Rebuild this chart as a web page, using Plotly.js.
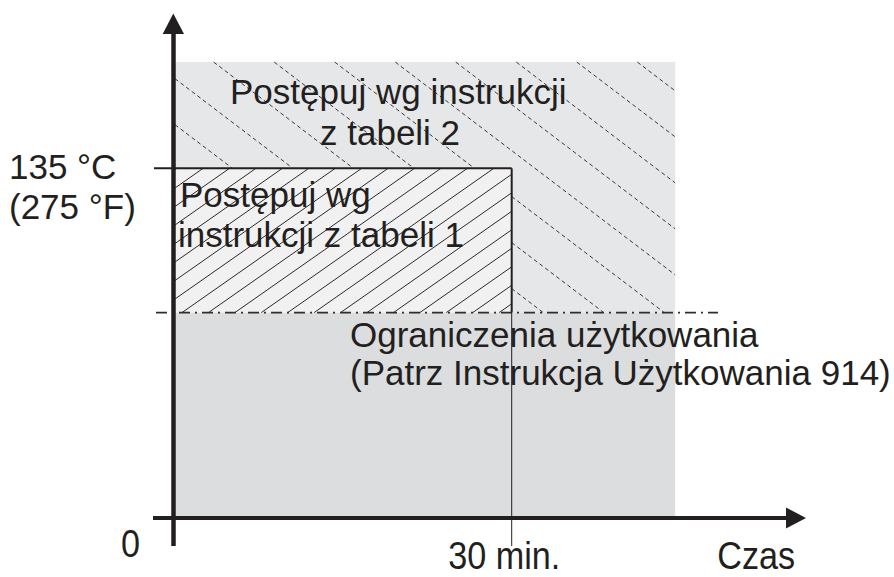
<!DOCTYPE html>
<html><head><meta charset="utf-8">
<script src="https://cdn.plot.ly/plotly-3.0.1.min.js"></script>
<style>html,body{margin:0;padding:0;background:#fff;}</style>
</head><body><div id="chart" style="width:894px;height:577px"></div>
<script>
// ---------- data ----------
const timeTicks = [0, 30];                 // min
const timeTickLabels = ['0', '30 min.'];
const timeAxisLabel = 'Czas';
const tempTicks = [135];                   // °C
const tempTickLabels = ['135 °C', '(275 °F)'];
const limitTemp = 79.3;                    // dash-dot boundary (°C)
const zoneMaxTime = 44.5;                  // extent of shaded zone (min)
const zoneMaxTemp = 176;                   // extent of shaded zone (°C)
const table1Time = 30;
const table1Temp = 135;
const table2Label = ['Postępuj wg instrukcji', 'z tabeli 2'];
const table1Label = ['Postępuj wg', 'instrukcji z tabeli 1'];
const limitLabel = ['Ograniczenia użytkowania', '(Patrz Instrukcja Użytkowania 914)'];

// ---------- geometry helpers (pixel <-> data) ----------
const W = 894, H = 577;
const X0PX = 173.5, XSCALE = (511.7 - 173.5) / 30;
const Y0PX = 518, YSCALE = (518 - 168.3) / 135;
const px2x = p => (p - X0PX) / XSCALE;
const py2y = p => (Y0PX - p) / YSCALE;
const x2px = x => X0PX + x * XSCALE;
const y2py = y => Y0PX - y * YSCALE;
const xr = [px2x(0), px2x(W)];
const yr = [py2y(H), py2y(0)];

const INK = '#231f20';
const MAIN_FONT = 'Liberation Sans, Arial, sans-serif';
const NARROW_FONT = 'Liberation Sans Narrow, Arial Narrow, Liberation Sans, Arial, sans-serif';

// hatch generation, clipped to pixel rectangles
function hatch(rects, slope, vSpacing, through) {
  const xs = [], ys = [];
  rects.forEach(r => {
    const [xa, xb, ya, yb] = r;
    const c0 = through[1] - slope * through[0];
    const cs = [ya - slope * xa, ya - slope * xb, yb - slope * xa, yb - slope * xb];
    const kmin = Math.ceil((Math.min(...cs) - c0) / vSpacing);
    const kmax = Math.floor((Math.max(...cs) - c0) / vSpacing);
    for (let k = kmin; k <= kmax; k++) {
      const c = c0 + k * vSpacing;
      const x1 = (ya - c) / slope, x2 = (yb - c) / slope;
      const lo = Math.max(xa, Math.min(x1, x2));
      const hi = Math.min(xb, Math.max(x1, x2));
      if (hi - lo < 0.5) continue;
      xs.push(px2x(lo), px2x(hi), null);
      ys.push(py2y(slope * lo + c), py2y(slope * hi + c), null);
    }
  });
  return {xs, ys};
}

const zL = x2px(0) + 1.5, zR = x2px(zoneMaxTime), zT = y2py(zoneMaxTemp);
const bR = x2px(table1Time), bT = y2py(table1Temp), lim = y2py(limitTemp);

const h2 = hatch([[zL, zR, zT, bT], [bR, zR, bT, lim]], 0.76, 46, [176.7, 80]);
const h1 = hatch([[zL, bR, bT, lim]], -0.7, 18.5, [176.7, bT]);

const traces = [
  {x: h2.xs, y: h2.ys, type: 'scatter', mode: 'lines', hoverinfo: 'skip',
   line: {color: '#3a3a3a', width: 1, dash: '4px,3px'}, connectgaps: false},
  {x: h1.xs, y: h1.ys, type: 'scatter', mode: 'lines', hoverinfo: 'skip',
   line: {color: '#2a2a2a', width: 1}, connectgaps: false}
];

const shapes = [
  {type: 'rect', layer: 'below', x0: 0, x1: zoneMaxTime, y0: limitTemp, y1: zoneMaxTemp,
   fillcolor: '#e6e7e8', line: {width: 0}},
  {type: 'rect', layer: 'below', x0: 0, x1: zoneMaxTime, y0: 0, y1: limitTemp,
   fillcolor: '#dcddde', line: {width: 0}},
  {type: 'rect', layer: 'below', x0: 0, x1: table1Time, y0: limitTemp, y1: table1Temp,
   fillcolor: '#f1f1f1', line: {width: 0}},
  // dash-dot limit line
  {type: 'line', x0: px2x(156), x1: px2x(718), y0: limitTemp, y1: limitTemp,
   line: {color: '#2e2e2e', width: 1.6, dash: '11px,5px,2px,5px'}},
  // 135 °C line (box top)
  {type: 'line', x0: px2x(154), x1: table1Time, y0: table1Temp, y1: table1Temp,
   line: {color: INK, width: 2}},
  // 30 min line
  {type: 'line', x0: table1Time, x1: table1Time, y0: limitTemp, y1: table1Temp,
   line: {color: INK, width: 2}},
  {type: 'line', x0: table1Time, x1: table1Time, y0: py2y(546), y1: limitTemp,
   line: {color: INK, width: 1}},
  // axes
  {type: 'line', x0: 0, x1: 0, y0: py2y(546), y1: py2y(31),
   line: {color: INK, width: 4.5}},
  {type: 'line', x0: px2x(153), x1: px2x(790), y0: 0, y1: 0,
   line: {color: INK, width: 4}},
  // arrowheads
  {type: 'path', path: `M ${px2x(162.7)},${py2y(34)} L ${px2x(173.3)},${py2y(13.5)} L ${px2x(184)},${py2y(34)} Z`,
   fillcolor: INK, line: {width: 0}},
  {type: 'path', path: `M ${px2x(786)},${py2y(507.5)} L ${px2x(806)},${py2y(518)} L ${px2x(786)},${py2y(528.5)} Z`,
   fillcolor: INK, line: {width: 0}}
];

const FS = 35;
function ann(text, xpx, baselinePx, xanchor, font, size) {
  return {text, x: px2x(xpx), y: py2y(baselinePx - 0.3465 * size), xref: 'x', yref: 'y',
    xanchor, yanchor: 'middle', showarrow: false, borderpad: 0,
    font: {family: font, size, color: INK}};
}
const annotations = [
  ann(table2Label[0], 398, 104, 'center', MAIN_FONT, FS),
  ann(table2Label[1], 390, 145, 'center', MAIN_FONT, FS),
  ann(tempTickLabels[0], 8, 178.3, 'left', MAIN_FONT, FS),
  ann(tempTickLabels[1], 8, 218.3, 'left', MAIN_FONT, FS),
  ann(table1Label[0], 179, 207, 'left', MAIN_FONT, FS),
  ann(table1Label[1], 177, 247, 'left', MAIN_FONT, FS),
  ann(limitLabel[0], 349, 346.7, 'left', MAIN_FONT, FS),
  ann(limitLabel[1], 349, 385, 'left', MAIN_FONT, FS),
  ann(timeTickLabels[0], 130, 557, 'center', NARROW_FONT, 38),
  ann(timeTickLabels[1], 504, 569, 'center', NARROW_FONT, 38),
  ann(timeAxisLabel, 756, 569, 'center', NARROW_FONT, 38)
];
const narrowIdx = [8, 9, 10];

const layout = {
  width: W, height: H, margin: {l: 0, r: 0, t: 0, b: 0},
  paper_bgcolor: '#fff', plot_bgcolor: '#fff', showlegend: false,
  xaxis: {range: xr, visible: false, fixedrange: true},
  yaxis: {range: yr, visible: false, fixedrange: true},
  shapes, annotations, hovermode: false
};
Plotly.newPlot('chart', traces, layout, {staticPlot: true, displayModeBar: false}).then(gd => {
  // condense the axis labels horizontally (Arial Narrow look)
  const anns = gd.querySelectorAll('.annotation');
  narrowIdx.forEach(i => {
    const t = anns[i] && anns[i].querySelector('text');
    if (!t) return;
    const bb = t.getBBox();
    const cx = bb.x + bb.width / 2;
    t.setAttribute('transform', `translate(${cx},0) scale(0.9,1) translate(${-cx},0)`);
  });
});
</script></body></html>
